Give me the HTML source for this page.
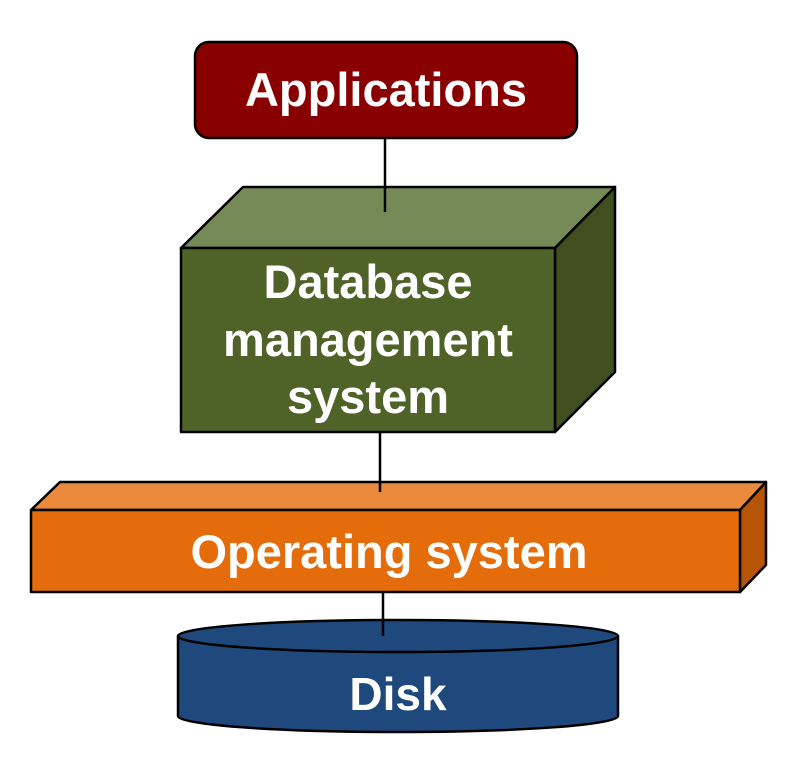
<!DOCTYPE html>
<html><head><style>
html,body{margin:0;padding:0;background:#fff;}
svg{display:block;}
text{font-family:"Liberation Sans",sans-serif;font-weight:bold;fill:#fff;text-anchor:middle;}
</style></head><body>
<svg width="792" height="760" viewBox="0 0 792 760" xmlns="http://www.w3.org/2000/svg">
<g stroke="#000" stroke-width="2.5" stroke-linejoin="round">
<rect x="195" y="42" width="382" height="96" rx="14" fill="#880000"/>
<polygon points="181,248 243,187 615,187 555,248" fill="#758A56"/>
<polygon points="555,248 615,187 615,372 555,432" fill="#3F4F20"/>
<rect x="181" y="248" width="374" height="184" fill="#4F6228"/>
<line x1="385" y1="138" x2="385" y2="212"/>
<polygon points="31,510 60,482 766,482 740,510" fill="#EB8A3C"/>
<polygon points="740,510 766,482 766,565 740,592" fill="#B65508"/>
<rect x="31" y="510" width="709" height="82" fill="#E46C0A"/>
<line x1="380" y1="432" x2="380" y2="492"/>
<path d="M178,636 L178,716 A220,16 0 0 0 618,716 L618,636" fill="#1F497D"/>
<ellipse cx="398" cy="636" rx="220" ry="16" fill="#1F497D"/>
<line x1="383" y1="592" x2="383" y2="636"/>
</g>
<text x="386" y="106" font-size="47">Applications</text>
<text x="368" y="298" font-size="47">Database</text>
<text x="368" y="356" font-size="47">management</text>
<text x="368" y="413" font-size="47">system</text>
<text x="389" y="568" font-size="47">Operating system</text>
<text x="398" y="710" font-size="46">Disk</text>
</svg>
</body></html>
